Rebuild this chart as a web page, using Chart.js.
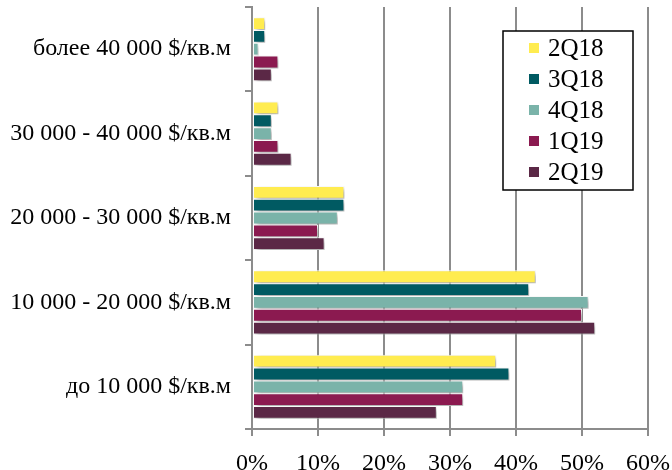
<!DOCTYPE html>
<html>
<head>
<meta charset="utf-8">
<script src="https://cdn.jsdelivr.net/npm/chart.js@4/dist/chart.umd.min.js"></script>
<style>
  html, body { margin: 0; padding: 0; background: #fff; }
  #wrap { width: 672px; height: 470px; }
</style>
</head>
<body>
<div id="wrap"><canvas id="chart"></canvas></div>
<script>
const categories = ['более 40 000 $/кв.м', '30 000 - 40 000 $/кв.м', '20 000 - 30 000 $/кв.м', '10 000 - 20 000 $/кв.м', 'до 10 000 $/кв.м'];
const series = ['2Q18', '3Q18', '4Q18', '1Q19', '2Q19'];
const colors = ['#ffec50', '#005a62', '#7ab3a9', '#8b1a50', '#5b2846'];
const v2Q18 = [2, 4, 14, 43, 37];
const v3Q18 = [2, 3, 14, 42, 39];
const v4Q18 = [1, 3, 13, 51, 32];
const v1Q19 = [4, 4, 10, 50, 32];
const v2Q19 = [3, 6, 11, 52, 28];
const xTicks = [0, 10, 20, 30, 40, 50, 60];

const values = [v2Q18, v3Q18, v4Q18, v1Q19, v2Q19];
const gridColor = '#8c8c8c';
const serif = '"Liberation Serif", "Times New Roman", serif';

// drop shadow under the bars
const barShadow = {
  id: 'barShadow',
  beforeDatasetsDraw(chart) {
    const c = chart.ctx;
    c.save();
    c.shadowColor = 'rgba(0,0,0,0.35)';
    c.shadowBlur = 5;
    c.shadowOffsetX = 3;
    c.shadowOffsetY = 3;
  },
  afterDatasetsDraw(chart) {
    chart.ctx.restore();
  }
};

// boxed legend inside the plot area
const boxLegend = {
  id: 'boxLegend',
  afterDraw(chart) {
    const c = chart.ctx;
    const x0 = 503, y0 = 31, w = 130, h = 159;
    c.save();
    c.fillStyle = '#fff';
    c.fillRect(x0, y0, w, h);
    c.strokeStyle = '#000';
    c.lineWidth = 1.5;
    c.strokeRect(x0, y0, w, h);
    c.font = '25px ' + serif;
    c.textBaseline = 'middle';
    chart.data.datasets.forEach((ds, i) => {
      const y = y0 + 17 + i * 31;
      c.fillStyle = ds.backgroundColor;
      c.fillRect(x0 + 26, y - 5, 10, 10);
      c.fillStyle = '#000';
      c.fillText(ds.label, x0 + 45, y + 1);
    });
    c.restore();
  }
};

new Chart(document.getElementById('chart'), {
  type: 'bar',
  data: {
    labels: categories,
    datasets: series.map((s, i) => ({
      label: s,
      data: values[i],
      backgroundColor: colors[i],
      borderColor: '#ffffff',
      borderWidth: 1,
      borderSkipped: false,
      categoryPercentage: 0.76,
      barPercentage: 1.0
    }))
  },
  options: {
    indexAxis: 'y',
    responsive: true,
    maintainAspectRatio: false,
    animation: false,
    layout: { padding: { top: 7, right: 24, left: 0, bottom: 0 } },
    plugins: {
      legend: { display: false },
      tooltip: { enabled: false }
    },
    scales: {
      x: {
        min: 0,
        max: 60,
        afterBuildTicks(scale) { scale.ticks = xTicks.map(v => ({ value: v })); },
        afterFit(scale) {
          scale.height = 41;
          scale.paddingLeft = 0;
          scale.paddingRight = 0;
        },
        grid: { color: gridColor, lineWidth: 2, tickLength: 7 },
        border: { color: gridColor, width: 2 },
        ticks: {
          color: '#000',
          font: { family: serif, size: 24 },
          padding: 13,
          maxRotation: 0,
          callback: v => v + '%'
        }
      },
      y: {
        afterFit(scale) {
          scale.width = 252;
          scale.paddingTop = 0;
          scale.paddingBottom = 0;
        },
        grid: { color: gridColor, lineWidth: 2, drawOnChartArea: false, tickLength: 7 },
        border: { color: gridColor, width: 2 },
        ticks: {
          color: '#000',
          font: { family: serif, size: 24 },
          padding: 14
        }
      }
    }
  },
  plugins: [barShadow, boxLegend]
});
</script>
</body>
</html>
